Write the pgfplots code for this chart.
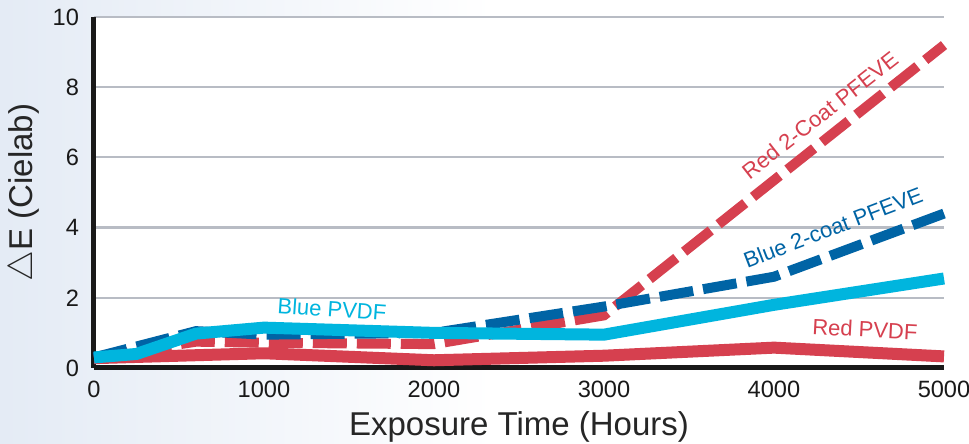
\documentclass[border=0pt]{standalone}
\usepackage{pgfplots}
\pgfplotsset{compat=1.18}
\usepackage{fontspec}
\setmainfont{Liberation Sans}
\definecolor{cred}{HTML}{D6404F}
\definecolor{ccyan}{HTML}{00B5DE}
\definecolor{cblue}{HTML}{0064A5}
\definecolor{cgrid}{HTML}{B8BCC4}
\definecolor{bgblue}{HTML}{E4EBF5}
\begin{document}
\begin{tikzpicture}
\useasboundingbox (-47pt,-38pt) rectangle (437.5pt,184pt);
\shade[left color=bgblue, right color=white] (-47pt,-38pt) rectangle (200pt,184pt);
\fill[white] (200pt,-38pt) rectangle (437.5pt,184pt);
\fill[white] (0pt,0pt) rectangle (425pt,175.5pt);
\begin{axis}[
  at={(0pt,0pt)}, anchor=origin,
  scale only axis, width=425pt, height=175.5pt,
  xmin=0, xmax=5000, ymin=0, ymax=10,
  axis x line*=bottom, axis y line*=left,
  axis line style={-, line width=2.5pt, black!90},
  xtick={0,1000,2000,3000,4000,5000},
  ytick={0,2,4,6,8,10},
  major tick length=0pt,
  ymajorgrids, grid style={cgrid, line width=1.1pt},
  /pgf/number format/assume math mode=true,
  /pgf/number format/1000 sep={},
  tick label style={font=\fontsize{11.8}{13}\selectfont, black!90},
  xticklabel style={yshift=-3pt},
  yticklabel style={xshift=-4pt},
  xlabel={Exposure Time (Hours)},
  ylabel={$\triangle$E (Cielab)},
  label style={font=\fontsize{16.5}{18}\selectfont, black!85},
  clip=false,
]
\addplot[cred, line width=6pt, line join=round] coordinates {
(0,0.28) (1000,0.42) (2000,0.22) (3000,0.35) (4000,0.58) (5000,0.33)};
\addplot[cred, line width=5pt, dash pattern=on 17pt off 5pt] coordinates {
(0,0.3) (600,0.75) (1000,0.72) (2000,0.68) (3000,1.5) (5000,9.2)};
\addplot[cblue, line width=5pt, dash pattern=on 17pt off 5pt] coordinates {
(0,0.3) (600,1.05) (1000,0.95) (2000,1.0) (3000,1.75) (4000,2.6) (5000,4.4)};
\addplot[ccyan, line width=6pt, line join=round] coordinates {
(0,0.3) (250,0.4) (600,0.98) (1000,1.15) (2000,1.0) (3000,0.95) (4000,1.8) (5000,2.55)};
\node[cred, rotate=38, font=\fontsize{11}{12}\selectfont] at (axis cs:4270,7.2) {Red 2-Coat PFEVE};
\node[cblue, rotate=21, font=\fontsize{11}{12}\selectfont] at (axis cs:4347,4.0) {Blue 2-coat PFEVE};
\node[ccyan, rotate=-4, font=\fontsize{11}{12}\selectfont] at (axis cs:1400,1.68) {Blue PVDF};
\node[cred, rotate=-3, font=\fontsize{11}{12}\selectfont] at (axis cs:4535,1.1) {Red PVDF};
\end{axis}
\end{tikzpicture}
\end{document}
